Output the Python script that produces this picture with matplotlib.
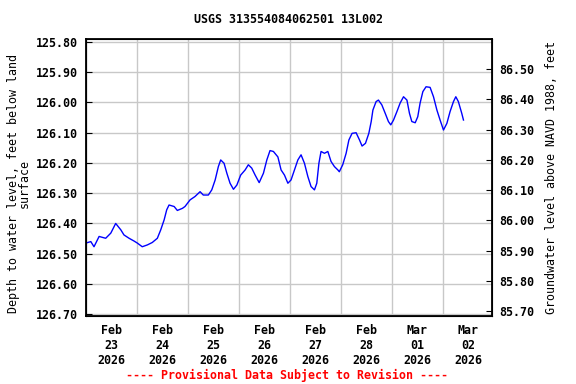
import numpy as np
import matplotlib
matplotlib.use("Agg")
import matplotlib.pyplot as plt
import matplotlib.dates as mdates

plt.rcParams['font.family'] = ['DejaVu Sans Mono']
plt.rcParams['font.weight'] = 'bold'
plt.rcParams['font.size'] = 8.4

# hours after 2026-02-23 00:00 and depth to water (ft below land surface)
hours = [0.0, 2.4, 3.9, 6.3, 9.4, 11.8, 14.1, 16.5, 18.0, 20.4, 22.7, 24.3, 26.6, 29.0,
         31.3, 33.7, 35.3, 36.9, 38.1, 39.2, 41.6, 43.1, 45.5, 46.7, 49.1, 51.4, 53.8,
         55.3, 57.7, 59.3, 60.9, 62.4, 63.5, 65.1, 66.4, 67.9, 69.5, 71.1, 72.9, 75.0,
         76.5, 78.1, 79.7, 81.6, 83.6, 85.2, 86.7, 88.3, 90.4, 91.9, 93.5, 95.1, 96.6,
         98.2, 99.8, 101.3, 102.9, 104.5, 106.0, 107.6, 108.7, 109.7, 110.7, 112.3, 113.9,
         115.4, 117.0, 118.6, 119.3, 120.9, 122.5, 123.8, 125.3, 127.2, 128.8, 130.0,
         131.6, 133.2, 134.3, 135.1, 136.6, 137.7, 139.3, 140.9, 142.4, 143.5, 144.8,
         146.4, 147.9, 149.5, 151.1, 152.3, 153.4, 155.0, 156.2, 157.3, 158.6, 160.1,
         162.0, 163.6, 165.2, 166.7, 168.3, 169.9, 171.4, 173.0, 174.1, 175.3, 176.9, 177.7]
depth = [126.465, 126.460, 126.477, 126.443, 126.449, 126.432, 126.400, 126.421, 126.438,
         126.449, 126.458, 126.465, 126.477, 126.471, 126.463, 126.449, 126.421, 126.388,
         126.355, 126.339, 126.344, 126.357, 126.350, 126.344, 126.322, 126.311, 126.295,
         126.306, 126.306, 126.289, 126.256, 126.212, 126.190, 126.201, 126.234, 126.267,
         126.287, 126.273, 126.240, 126.223, 126.206, 126.217, 126.240, 126.265, 126.234,
         126.190, 126.159, 126.162, 126.180, 126.223, 126.240, 126.267, 126.256, 126.223,
         126.190, 126.173, 126.201, 126.245, 126.278, 126.289, 126.267, 126.201, 126.162,
         126.168, 126.162, 126.195, 126.212, 126.223, 126.229, 126.206, 126.168, 126.124,
         126.102, 126.100, 126.124, 126.144, 126.135, 126.102, 126.063, 126.025, 125.997,
         125.992, 126.008, 126.036, 126.063, 126.074, 126.058, 126.030, 126.002, 125.981,
         125.992, 126.036, 126.063, 126.067, 126.047, 126.002, 125.964, 125.948, 125.950,
         125.981, 126.025, 126.058, 126.091, 126.069, 126.030, 125.997, 125.981, 125.997,
         126.036, 126.058]

datum_offset = 212.39  # elevation = offset - depth
left_ticks = [125.8, 125.9, 126.0, 126.1, 126.2, 126.3, 126.4, 126.5, 126.6, 126.7]
right_ticks = [85.7, 85.8, 85.9, 86.0, 86.1, 86.2, 86.3, 86.4, 86.5]

start = np.datetime64('2026-02-23T00:00')
times = start + (np.array(hours) * 60).astype(int).astype('timedelta64[m]')

fig = plt.figure(figsize=(5.76, 3.84), dpi=100)
ax = fig.add_axes([0.1488, 0.1779, 0.7059, 0.7198])

ax.plot(times, depth, color='#0000ff', lw=1)

ylim = (126.705, 125.791)
ax.set_ylim(ylim)
ax.set_xlim(start, start + np.timedelta64(int(7.97 * 24 * 60), 'm'))
ax.set_yticks(left_ticks)
ax.set_yticklabels([f"{v:.2f}" for v in left_ticks])

ax.xaxis.set_major_locator(mdates.DayLocator())
ax.xaxis.set_major_formatter(plt.NullFormatter())
ax.xaxis.set_minor_locator(mdates.HourLocator(byhour=12))
ax.xaxis.set_minor_formatter(mdates.DateFormatter('%b\n%d\n%Y'))
ax.tick_params(axis='x', which='both', length=0, pad=6)
ax.tick_params(axis='y', direction='in', length=4, pad=6)
ax.grid(True, which='major', color='#c8c8c8', lw=1)
for s in ax.spines.values():
    s.set_linewidth(1.3)

ax.set_ylabel("Depth to water level, feet below land\nsurface", labelpad=4,
              linespacing=0.75)
ax.yaxis.set_label_coords(-0.135, 0.48)

ax2 = ax.twinx()
ax2.set_ylim(datum_offset - ylim[0], datum_offset - ylim[1])
ax2.set_yticks(right_ticks)
ax2.set_yticklabels([f"{v:.2f}" for v in right_ticks])
ax2.tick_params(axis='y', direction='in', length=4, pad=5)
ax2.set_ylabel("Groundwater level above NAVD 1988, feet", labelpad=8)

fig.text(0.5017, 0.948, "USGS 313554084062501 13L002", ha='center', va='center')
fig.text(0.499, 0.023, "---- Provisional Data Subject to Revision ----",
         ha='center', va='center', color='red')

fig.savefig("out.png", dpi=100)
